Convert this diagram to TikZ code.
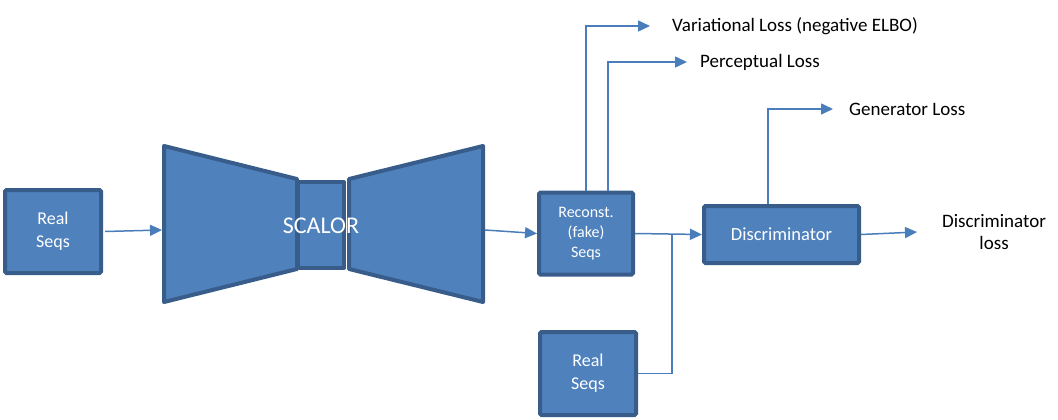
\documentclass[tikz,border=0pt]{standalone}
\usepackage{fontspec}
\setmainfont{Carlito}
\usetikzlibrary{arrows.meta,calc}
\definecolor{boxfill}{HTML}{4F81BD}
\definecolor{boxline}{HTML}{385D8A}
\definecolor{arrcol}{HTML}{4A7EBB}
\begin{document}
\begin{tikzpicture}[x=1pt,y=-1pt,
  blk/.style={draw=boxline,fill=boxfill,line width=4pt,rounded corners=1.5pt,text=white,align=center,inner sep=0pt},
  arr/.style={draw=arrcol,line width=1.5pt,-{Triangle[length=12pt,width=11pt]}},
  ln/.style={draw=arrcol,line width=1.5pt},
  lbl/.style={inner sep=0pt,font=\fontsize{19}{22}\selectfont,align=center}]
\useasboundingbox (0,0) rectangle (1058,420);
% boxes
\node[blk,minimum width=96pt,minimum height=83pt,font=\fontsize{18}{23}\selectfont] (real1) at (53,231.5) {Real\\Seqs};
\node[blk,minimum width=94pt,minimum height=82pt,font=\fontsize{16}{20}\selectfont] (recon) at (586,233.5) {Reconst.\\(fake)\\Seqs};
\node[blk,minimum width=155pt,minimum height=57pt,font=\fontsize{18.5}{22}\selectfont] (disc) at (781.5,234.5) {Discriminator};
\node[blk,minimum width=96pt,minimum height=83pt,font=\fontsize{18}{23}\selectfont] (real2) at (588,373.5) {Real\\Seqs};
% SCALOR encoder / bottleneck / decoder
\draw[draw=boxline,fill=boxfill,line width=4pt,line join=round] (164,146) -- (297,179) -- (297,269) -- (164,302) -- cycle;
\draw[draw=boxline,fill=boxfill,line width=4pt,line join=round] (298,182) rectangle (344,268);
\draw[draw=boxline,fill=boxfill,line width=4pt,line join=round] (349,179) -- (483,146) -- (483,302) -- (349,269) -- cycle;
\node[text=white,font=\fontsize{24}{28}\selectfont,inner sep=0pt] (scalor) at (321,226) {SCALOR};
\coordinate (encL) at (162,230);
\coordinate (decR) at (485,230);
% labels
\node[lbl,anchor=west] (var) at (672,26) {Variational Loss (negative ELBO)};
\node[lbl,anchor=west] (perc) at (700,62) {Perceptual Loss};
\node[lbl,anchor=west] (gen) at (849,109) {Generator Loss};
\node[lbl,anchor=west] (dloss) at (942,232) {Discriminator\\loss};
% connectors
\draw[arr] ([xshift=2pt]real1.east) -- (encL);
\draw[arr] (decR) -- (recon.west);
\draw[arr] (recon.north) |- ([xshift=-22pt]var.west);
\draw[arr] ([xshift=22pt]recon.north) |- ([xshift=-13pt]perc.west);
\draw[arr] ([xshift=-13.5pt]disc.north) |- ([xshift=-16pt]gen.west);
\draw[arr] (recon.east) -- (disc.west);
\coordinate (join) at (672,234);
\draw[ln] (real2.east) -| (join);
\draw[arr] (disc.east) -- ([xshift=-25pt]dloss.west);
\end{tikzpicture}
\end{document}
